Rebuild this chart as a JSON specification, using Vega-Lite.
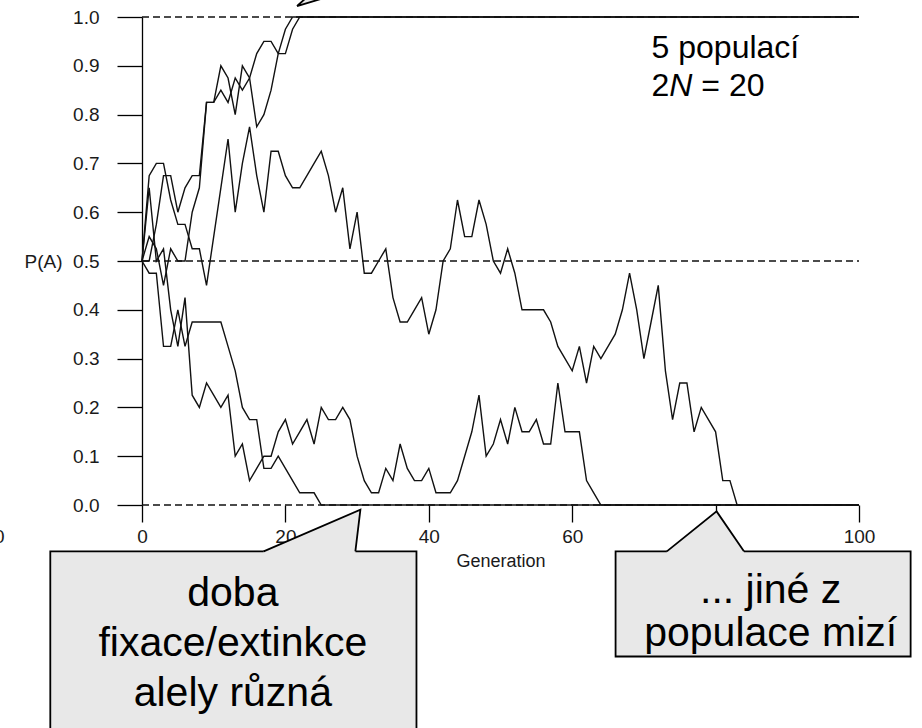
{
  "$schema": "https://vega.github.io/schema/vega-lite/v6.json",
  "width": 717,
  "height": 488,
  "autosize": {"type": "none"},
  "padding": {"left": 142, "top": 17, "right": 63, "bottom": 223},
  "background": "white",
  "config": {"view": {"stroke": null}, "font": "Liberation Sans"},
  "datasets": {
    "traj": [
      {"pop":"A","g":0,"p":0.5},{"pop":"A","g":1,"p":0.5},{"pop":"A","g":2,"p":0.575},{"pop":"A","g":3,"p":0.675},{"pop":"A","g":4,"p":0.675},{"pop":"A","g":5,"p":0.6},{"pop":"A","g":6,"p":0.65},{"pop":"A","g":7,"p":0.675},{"pop":"A","g":8,"p":0.675},{"pop":"A","g":9,"p":0.825},{"pop":"A","g":10,"p":0.825},{"pop":"A","g":11,"p":0.9},{"pop":"A","g":12,"p":0.875},{"pop":"A","g":13,"p":0.8},{"pop":"A","g":14,"p":0.9},{"pop":"A","g":15,"p":0.875},{"pop":"A","g":16,"p":0.775},{"pop":"A","g":17,"p":0.8},{"pop":"A","g":18,"p":0.85},{"pop":"A","g":19,"p":0.925},{"pop":"A","g":20,"p":0.975},{"pop":"A","g":21,"p":1},{"pop":"A","g":100,"p":1},
      {"pop":"B","g":0,"p":0.5},{"pop":"B","g":1,"p":0.55},{"pop":"B","g":2,"p":0.525},{"pop":"B","g":3,"p":0.45},{"pop":"B","g":4,"p":0.525},{"pop":"B","g":5,"p":0.5},{"pop":"B","g":6,"p":0.5},{"pop":"B","g":7,"p":0.6},{"pop":"B","g":8,"p":0.65},{"pop":"B","g":9,"p":0.825},{"pop":"B","g":10,"p":0.825},{"pop":"B","g":11,"p":0.85},{"pop":"B","g":12,"p":0.825},{"pop":"B","g":13,"p":0.875},{"pop":"B","g":14,"p":0.85},{"pop":"B","g":15,"p":0.875},{"pop":"B","g":16,"p":0.925},{"pop":"B","g":17,"p":0.95},{"pop":"B","g":18,"p":0.95},{"pop":"B","g":19,"p":0.925},{"pop":"B","g":20,"p":0.925},{"pop":"B","g":21,"p":0.975},{"pop":"B","g":22,"p":1},{"pop":"B","g":100,"p":1},
      {"pop":"C","g":0,"p":0.5},{"pop":"C","g":1,"p":0.675},{"pop":"C","g":2,"p":0.7},{"pop":"C","g":3,"p":0.7},{"pop":"C","g":4,"p":0.625},{"pop":"C","g":5,"p":0.575},{"pop":"C","g":6,"p":0.575},{"pop":"C","g":7,"p":0.525},{"pop":"C","g":8,"p":0.525},{"pop":"C","g":9,"p":0.45},{"pop":"C","g":10,"p":0.55},{"pop":"C","g":11,"p":0.65},{"pop":"C","g":12,"p":0.75},{"pop":"C","g":13,"p":0.6},{"pop":"C","g":14,"p":0.7},{"pop":"C","g":15,"p":0.775},{"pop":"C","g":16,"p":0.675},{"pop":"C","g":17,"p":0.6},{"pop":"C","g":18,"p":0.725},{"pop":"C","g":19,"p":0.725},{"pop":"C","g":20,"p":0.675},{"pop":"C","g":21,"p":0.65},{"pop":"C","g":22,"p":0.65},{"pop":"C","g":23,"p":0.675},{"pop":"C","g":24,"p":0.7},{"pop":"C","g":25,"p":0.725},{"pop":"C","g":26,"p":0.675},{"pop":"C","g":27,"p":0.6},{"pop":"C","g":28,"p":0.65},{"pop":"C","g":29,"p":0.525},{"pop":"C","g":30,"p":0.6},{"pop":"C","g":31,"p":0.475},{"pop":"C","g":32,"p":0.475},{"pop":"C","g":33,"p":0.5},{"pop":"C","g":34,"p":0.525},{"pop":"C","g":35,"p":0.425},{"pop":"C","g":36,"p":0.375},{"pop":"C","g":37,"p":0.375},{"pop":"C","g":38,"p":0.4},{"pop":"C","g":39,"p":0.425},{"pop":"C","g":40,"p":0.35},{"pop":"C","g":41,"p":0.4},{"pop":"C","g":42,"p":0.5},{"pop":"C","g":43,"p":0.525},{"pop":"C","g":44,"p":0.625},{"pop":"C","g":45,"p":0.55},{"pop":"C","g":46,"p":0.55},{"pop":"C","g":47,"p":0.625},{"pop":"C","g":48,"p":0.575},{"pop":"C","g":49,"p":0.5},{"pop":"C","g":50,"p":0.475},{"pop":"C","g":51,"p":0.525},{"pop":"C","g":52,"p":0.475},{"pop":"C","g":53,"p":0.4},{"pop":"C","g":54,"p":0.4},{"pop":"C","g":55,"p":0.4},{"pop":"C","g":56,"p":0.4},{"pop":"C","g":57,"p":0.375},{"pop":"C","g":58,"p":0.325},{"pop":"C","g":59,"p":0.3},{"pop":"C","g":60,"p":0.275},{"pop":"C","g":61,"p":0.325},{"pop":"C","g":62,"p":0.25},{"pop":"C","g":63,"p":0.325},{"pop":"C","g":64,"p":0.3},{"pop":"C","g":65,"p":0.325},{"pop":"C","g":66,"p":0.35},{"pop":"C","g":67,"p":0.4},{"pop":"C","g":68,"p":0.475},{"pop":"C","g":69,"p":0.4},{"pop":"C","g":70,"p":0.3},{"pop":"C","g":71,"p":0.375},{"pop":"C","g":72,"p":0.45},{"pop":"C","g":73,"p":0.275},{"pop":"C","g":74,"p":0.175},{"pop":"C","g":75,"p":0.25},{"pop":"C","g":76,"p":0.25},{"pop":"C","g":77,"p":0.15},{"pop":"C","g":78,"p":0.2},{"pop":"C","g":79,"p":0.175},{"pop":"C","g":80,"p":0.15},{"pop":"C","g":81,"p":0.05},{"pop":"C","g":82,"p":0.05},{"pop":"C","g":83,"p":0},{"pop":"C","g":100,"p":0},
      {"pop":"D","g":0,"p":0.5},{"pop":"D","g":1,"p":0.65},{"pop":"D","g":2,"p":0.5},{"pop":"D","g":3,"p":0.525},{"pop":"D","g":4,"p":0.4},{"pop":"D","g":5,"p":0.325},{"pop":"D","g":6,"p":0.425},{"pop":"D","g":7,"p":0.225},{"pop":"D","g":8,"p":0.2},{"pop":"D","g":9,"p":0.25},{"pop":"D","g":10,"p":0.225},{"pop":"D","g":11,"p":0.2},{"pop":"D","g":12,"p":0.225},{"pop":"D","g":13,"p":0.1},{"pop":"D","g":14,"p":0.125},{"pop":"D","g":15,"p":0.05},{"pop":"D","g":16,"p":0.075},{"pop":"D","g":17,"p":0.1},{"pop":"D","g":18,"p":0.1},{"pop":"D","g":19,"p":0.15},{"pop":"D","g":20,"p":0.175},{"pop":"D","g":21,"p":0.125},{"pop":"D","g":22,"p":0.15},{"pop":"D","g":23,"p":0.175},{"pop":"D","g":24,"p":0.125},{"pop":"D","g":25,"p":0.2},{"pop":"D","g":26,"p":0.175},{"pop":"D","g":27,"p":0.175},{"pop":"D","g":28,"p":0.2},{"pop":"D","g":29,"p":0.175},{"pop":"D","g":30,"p":0.1},{"pop":"D","g":31,"p":0.05},{"pop":"D","g":32,"p":0.025},{"pop":"D","g":33,"p":0.025},{"pop":"D","g":34,"p":0.075},{"pop":"D","g":35,"p":0.05},{"pop":"D","g":36,"p":0.125},{"pop":"D","g":37,"p":0.075},{"pop":"D","g":38,"p":0.05},{"pop":"D","g":39,"p":0.05},{"pop":"D","g":40,"p":0.075},{"pop":"D","g":41,"p":0.025},{"pop":"D","g":42,"p":0.025},{"pop":"D","g":43,"p":0.025},{"pop":"D","g":44,"p":0.05},{"pop":"D","g":45,"p":0.1},{"pop":"D","g":46,"p":0.15},{"pop":"D","g":47,"p":0.225},{"pop":"D","g":48,"p":0.1},{"pop":"D","g":49,"p":0.125},{"pop":"D","g":50,"p":0.175},{"pop":"D","g":51,"p":0.125},{"pop":"D","g":52,"p":0.2},{"pop":"D","g":53,"p":0.15},{"pop":"D","g":54,"p":0.15},{"pop":"D","g":55,"p":0.175},{"pop":"D","g":56,"p":0.125},{"pop":"D","g":57,"p":0.125},{"pop":"D","g":58,"p":0.25},{"pop":"D","g":59,"p":0.15},{"pop":"D","g":60,"p":0.15},{"pop":"D","g":61,"p":0.15},{"pop":"D","g":62,"p":0.05},{"pop":"D","g":63,"p":0.025},{"pop":"D","g":64,"p":0},{"pop":"D","g":100,"p":0},
      {"pop":"E","g":0,"p":0.5},{"pop":"E","g":1,"p":0.475},{"pop":"E","g":2,"p":0.475},{"pop":"E","g":3,"p":0.325},{"pop":"E","g":4,"p":0.325},{"pop":"E","g":5,"p":0.4},{"pop":"E","g":6,"p":0.325},{"pop":"E","g":7,"p":0.375},{"pop":"E","g":8,"p":0.375},{"pop":"E","g":9,"p":0.375},{"pop":"E","g":10,"p":0.375},{"pop":"E","g":11,"p":0.375},{"pop":"E","g":12,"p":0.325},{"pop":"E","g":13,"p":0.275},{"pop":"E","g":14,"p":0.2},{"pop":"E","g":15,"p":0.175},{"pop":"E","g":16,"p":0.175},{"pop":"E","g":17,"p":0.075},{"pop":"E","g":18,"p":0.075},{"pop":"E","g":19,"p":0.1},{"pop":"E","g":20,"p":0.075},{"pop":"E","g":21,"p":0.05},{"pop":"E","g":22,"p":0.025},{"pop":"E","g":23,"p":0.025},{"pop":"E","g":24,"p":0.025},{"pop":"E","g":25,"p":0},{"pop":"E","g":100,"p":0}
    ]
  },
  "layer": [
    {
      "data": {"name": "traj"},
      "mark": {"type": "line", "color": "#111", "strokeWidth": 1.4},
      "encoding": {
        "x": {
          "field": "g", "type": "quantitative",
          "scale": {"domain": [0, 100], "nice": false, "zero": false},
          "axis": {
            "values": [0, 20, 40, 60, 80, 100], "domain": false, "grid": false,
            "tickSize": 17, "tickWidth": 1.3, "tickColor": "#000",
            "labelPadding": 5, "labelFontSize": 19, "labelColor": "#1a1a1a", "labelFlush": false, "labelOverlap": false,
            "title": "Generation", "titleFontSize": 18, "titleFontWeight": "normal", "titleColor": "#1a1a1a", "titlePadding": 6
          }
        },
        "y": {
          "field": "p", "type": "quantitative",
          "scale": {"domain": [0, 1]},
          "axis": {
            "values": [0, 0.1, 0.2, 0.3, 0.4, 0.5, 0.6, 0.7, 0.8, 0.9, 1], "format": ".1f", "grid": false,
            "domainColor": "#000", "domainWidth": 1.3,
            "tickSize": 25, "tickWidth": 1.3, "tickColor": "#000",
            "labelPadding": 18, "labelFontSize": 19, "labelColor": "#1a1a1a",
            "title": "P(A)", "titleAngle": 0, "titleAlign": "right", "titleBaseline": "middle",
            "titleX": -80, "titleY": 244, "titleFontSize": 19, "titleFontWeight": "normal", "titleColor": "#1a1a1a"
          }
        },
        "detail": {"field": "pop"},
        "order": {"field": "g", "type": "quantitative"}
      }
    },
    {
      "data": {"values": [{"ref": 0}, {"ref": 0.5}, {"ref": 1}]},
      "mark": {"type": "rule", "color": "#111", "strokeWidth": 1.3, "strokeDash": [7, 4]},
      "encoding": {
        "y": {"field": "ref", "type": "quantitative", "scale": {"domain": [0, 1]}},
        "x": {"datum": 0, "type": "quantitative", "scale": {"domain": [0, 100], "nice": false, "zero": false}},
        "x2": {"datum": 100}
      }
    },
    {
      "data": {"values": [{}]},
      "mark": {"type": "rect", "fill": "#e8e8e8", "stroke": "#000", "strokeWidth": 1.8},
      "encoding": {
        "x": {"datum": -12.79, "type": "quantitative", "scale": {"domain": [0, 100], "nice": false, "zero": false}},
        "x2": {"datum": 38.28},
        "y": {"datum": -0.095, "type": "quantitative", "scale": {"domain": [0, 1]}},
        "y2": {"datum": -0.5}
      }
    },
    {
      "data": {"values": [{}]},
      "mark": {"type": "rect", "fill": "#e8e8e8", "stroke": "#000", "strokeWidth": 1.8},
      "encoding": {
        "x": {"datum": 66.05, "type": "quantitative", "scale": {"domain": [0, 100], "nice": false, "zero": false}},
        "x2": {"datum": 107.2},
        "y": {"datum": -0.095, "type": "quantitative", "scale": {"domain": [0, 1]}},
        "y2": {"datum": -0.3105}
      }
    },
    {
      "data": {"values": [
        {"t": "L", "x": 16.97, "y": -0.095, "y2": -0.0985},
        {"t": "L", "x": 29.76, "y": -0.014, "y2": -0.0985},
        {"t": "L", "x": 30.46, "y": -0.0096, "y2": -0.0096},
        {"t": "R", "x": 73.2, "y": -0.095, "y2": -0.0985},
        {"t": "R", "x": 80.14, "y": -0.0131, "y2": -0.0985},
        {"t": "R", "x": 83.95, "y": -0.095, "y2": -0.0985},
        {"t": "T", "x": 21.63, "y": 1.0225, "y2": 1.0225},
        {"t": "T", "x": 24.45, "y": 1.06, "y2": 1.0348},
        {"t": "T", "x": 30.25, "y": 1.06, "y2": 1.06}
      ]},
      "mark": {"type": "area", "fill": "#e8e8e8", "opacity": 1, "strokeWidth": 0},
      "encoding": {
        "x": {"field": "x", "type": "quantitative", "scale": {"domain": [0, 100], "nice": false, "zero": false}},
        "y": {"field": "y", "type": "quantitative", "scale": {"domain": [0, 1]}},
        "y2": {"field": "y2"},
        "detail": {"field": "t"}
      }
    },
    {
      "data": {"values": [
        {"t": "L", "o": 0, "x": 16.97, "y": -0.095},
        {"t": "L", "o": 1, "x": 30.46, "y": -0.0096},
        {"t": "L", "o": 2, "x": 29.76, "y": -0.095},
        {"t": "R", "o": 0, "x": 73.2, "y": -0.095},
        {"t": "R", "o": 1, "x": 80.14, "y": -0.0131},
        {"t": "R", "o": 2, "x": 83.95, "y": -0.095},
        {"t": "T", "o": 0, "x": 24.45, "y": 1.06},
        {"t": "T", "o": 1, "x": 21.63, "y": 1.0225},
        {"t": "T", "o": 2, "x": 30.25, "y": 1.06}
      ]},
      "mark": {"type": "line", "color": "#000", "strokeWidth": 1.8, "strokeJoin": "miter"},
      "encoding": {
        "x": {"field": "x", "type": "quantitative", "scale": {"domain": [0, 100], "nice": false, "zero": false}},
        "y": {"field": "y", "type": "quantitative", "scale": {"domain": [0, 1]}},
        "detail": {"field": "t"},
        "order": {"field": "o", "type": "quantitative"}
      }
    },
    {
      "data": {"values": [{}]},
      "mark": {"type": "text", "text": "doba", "align": "center", "baseline": "alphabetic", "fontSize": 41, "font": "Liberation Sans", "color": "#000"},
      "encoding": {
        "x": {"datum": 12.67, "type": "quantitative", "scale": {"domain": [0, 100], "nice": false, "zero": false}},
        "y": {"datum": -0.2075, "type": "quantitative", "scale": {"domain": [0, 1]}}
      }
    },
    {
      "data": {"values": [{}]},
      "mark": {"type": "text", "text": "fixace/extinkce", "align": "center", "baseline": "alphabetic", "fontSize": 41, "font": "Liberation Sans", "color": "#000"},
      "encoding": {
        "x": {"datum": 12.67, "type": "quantitative", "scale": {"domain": [0, 100], "nice": false, "zero": false}},
        "y": {"datum": -0.3099, "type": "quantitative", "scale": {"domain": [0, 1]}}
      }
    },
    {
      "data": {"values": [{}]},
      "mark": {"type": "text", "text": "alely různá", "align": "center", "baseline": "alphabetic", "fontSize": 41, "font": "Liberation Sans", "color": "#000"},
      "encoding": {
        "x": {"datum": 12.67, "type": "quantitative", "scale": {"domain": [0, 100], "nice": false, "zero": false}},
        "y": {"datum": -0.4122, "type": "quantitative", "scale": {"domain": [0, 1]}}
      }
    },
    {
      "data": {"values": [{}]},
      "mark": {"type": "text", "text": "... jiné z", "align": "center", "baseline": "alphabetic", "fontSize": 41, "font": "Liberation Sans", "color": "#000"},
      "encoding": {
        "x": {"datum": 87.68, "type": "quantitative", "scale": {"domain": [0, 100], "nice": false, "zero": false}},
        "y": {"datum": -0.2, "type": "quantitative", "scale": {"domain": [0, 1]}}
      }
    },
    {
      "data": {"values": [{}]},
      "mark": {"type": "text", "text": "populace mizí", "align": "center", "baseline": "alphabetic", "fontSize": 41, "font": "Liberation Sans", "color": "#000"},
      "encoding": {
        "x": {"datum": 87.68, "type": "quantitative", "scale": {"domain": [0, 100], "nice": false, "zero": false}},
        "y": {"datum": -0.288, "type": "quantitative", "scale": {"domain": [0, 1]}}
      }
    },
    {
      "data": {"values": [{}]},
      "mark": {"type": "text", "text": "5 populací", "align": "left", "baseline": "alphabetic", "fontSize": 32, "font": "Liberation Sans", "color": "#000"},
      "encoding": {
        "x": {"datum": 71.07, "type": "quantitative", "scale": {"domain": [0, 100], "nice": false, "zero": false}},
        "y": {"datum": 0.9155, "type": "quantitative", "scale": {"domain": [0, 1]}}
      }
    },
    {
      "data": {"values": [{}]},
      "mark": {"type": "text", "text": "2", "align": "left", "baseline": "alphabetic", "fontSize": 32, "font": "Liberation Sans", "color": "#000"},
      "encoding": {
        "x": {"datum": 71.07, "type": "quantitative", "scale": {"domain": [0, 100], "nice": false, "zero": false}},
        "y": {"datum": 0.8377, "type": "quantitative", "scale": {"domain": [0, 1]}}
      }
    },
    {
      "data": {"values": [{}]},
      "mark": {"type": "text", "text": "N", "align": "left", "baseline": "alphabetic", "fontSize": 32, "fontStyle": "italic", "font": "Liberation Sans", "color": "#000"},
      "encoding": {
        "x": {"datum": 73.55, "type": "quantitative", "scale": {"domain": [0, 100], "nice": false, "zero": false}},
        "y": {"datum": 0.8377, "type": "quantitative", "scale": {"domain": [0, 1]}}
      }
    },
    {
      "data": {"values": [{}]},
      "mark": {"type": "text", "text": "= 20", "align": "left", "baseline": "alphabetic", "fontSize": 32, "font": "Liberation Sans", "color": "#000"},
      "encoding": {
        "x": {"datum": 78.01, "type": "quantitative", "scale": {"domain": [0, 100], "nice": false, "zero": false}},
        "y": {"datum": 0.8377, "type": "quantitative", "scale": {"domain": [0, 1]}}
      }
    },
    {
      "data": {"values": [{}]},
      "mark": {"type": "text", "text": "0", "align": "center", "baseline": "alphabetic", "fontSize": 19, "font": "Liberation Sans", "color": "#1a1a1a"},
      "encoding": {
        "x": {"datum": -19.9, "type": "quantitative", "scale": {"domain": [0, 100], "nice": false, "zero": false}},
        "y": {"datum": -0.0772, "type": "quantitative", "scale": {"domain": [0, 1]}}
      }
    }
  ]
}
